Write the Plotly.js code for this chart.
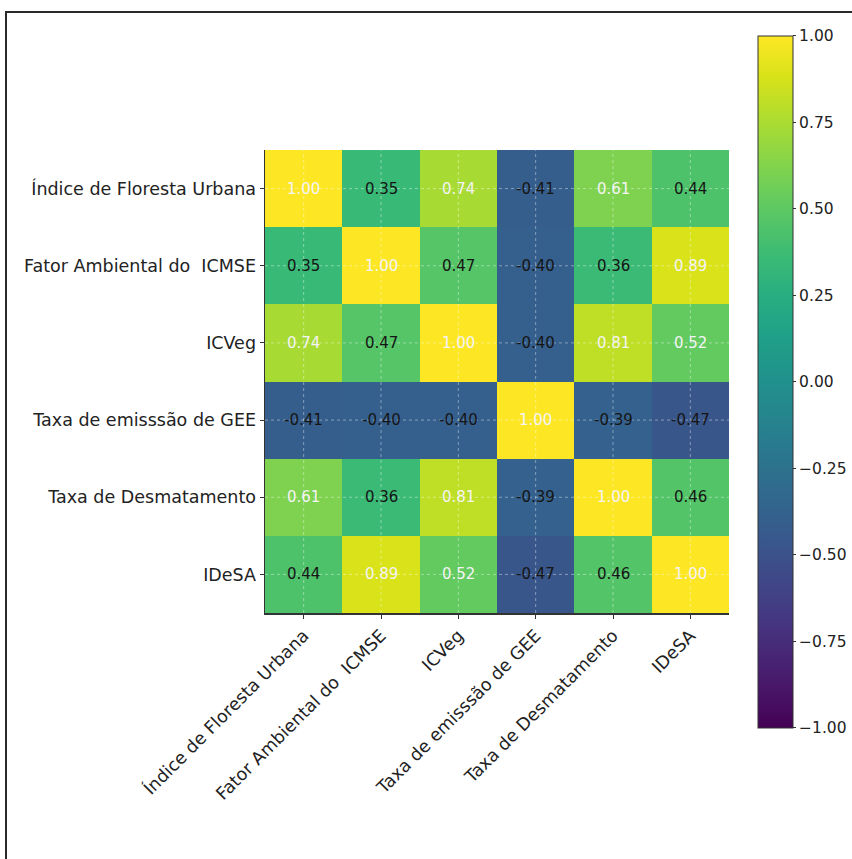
<!DOCTYPE html>
<html>
<head>
<meta charset="utf-8">
<script src="https://cdn.plot.ly/plotly-3.0.1.min.js"></script>
<style>
  html, body { margin: 0; padding: 0; background: #fff; }
  #wrap { position: relative; width: 852px; height: 859px; }
  #chart { position: absolute; left: 0; top: 0; width: 852px; height: 859px; }
  #frame { position: absolute; left: 5px; top: 11px; width: 860px; height: 860px;
           border-left: 2px solid #2a2a2a; border-top: 2px solid #2a2a2a; pointer-events: none; }
</style>
</head>
<body>
<div id="wrap">
  <div id="chart"></div>
  <div id="frame"></div>
</div>
<script>
// Variable names (same order on both axes)
const variables = [
  "Índice de Floresta Urbana",
  "Fator Ambiental do\u00A0 ICMSE",
  "ICVeg",
  "Taxa de emisssão de GEE",
  "Taxa de Desmatamento",
  "IDeSA"
];

// Correlation matrix rows (row i = variables[i])
const rowIndiceFloresta = [1.00, 0.35, 0.74, -0.41, 0.61, 0.44];
const rowFatorICMSE     = [0.35, 1.00, 0.47, -0.40, 0.36, 0.89];
const rowICVeg          = [0.74, 0.47, 1.00, -0.40, 0.81, 0.52];
const rowTaxaGEE        = [-0.41, -0.40, -0.40, 1.00, -0.39, -0.47];
const rowDesmatamento   = [0.61, 0.36, 0.81, -0.39, 1.00, 0.46];
const rowIDeSA          = [0.44, 0.89, 0.52, -0.47, 0.46, 1.00];

const colorbarTicks = [-1, -0.75, -0.5, -0.25, 0, 0.25, 0.5, 0.75, 1];

const z = [rowIndiceFloresta, rowFatorICMSE, rowICVeg, rowTaxaGEE, rowDesmatamento, rowIDeSA];

const FONT = "DejaVu Sans, Verdana, sans-serif";
const TXT = "#222";

const trace = {
  type: "heatmap",
  x: variables,
  y: variables,
  z: z,
  zmin: -1,
  zmax: 1,
  colorscale: "Viridis",
  xgap: 0,
  ygap: 0,
  hoverinfo: "skip",
  colorbar: {
    x: 1.0625,
    xanchor: "left",
    xpad: 0,
    ypad: 0,
    y: 0.4995,
    yanchor: "middle",
    thickness: 35,
    thicknessmode: "pixels",
    len: 692,
    lenmode: "pixels",
    outlinewidth: 1,
    outlinecolor: "#333",
    tickmode: "array",
    tickvals: colorbarTicks,
    tickformat: ".2f",
    ticks: "outside",
    ticklen: 3,
    tickwidth: 1,
    tickcolor: "#333",
    tickfont: { family: FONT, size: 15.5, color: TXT }
  }
};

// Cell value annotations
const annotations = [];
z.forEach((row, i) => {
  row.forEach((v, j) => {
    annotations.push({
      x: variables[j],
      y: variables[i],
      xref: "x",
      yref: "y",
      text: v.toFixed(2),
      showarrow: false,
      font: { family: FONT, size: 15, color: v > 0.5 ? "#f4f4f4" : "#151515" }
    });
  });
});

// Dashed grid lines over the cells, at category centres
const GRID = { color: "rgba(255,255,255,0.4)", width: 1, dash: "3px,3px" };
const shapes = [];
variables.forEach((name, i) => {
  shapes.push({
    type: "line", xref: "x", yref: "paper", x0: i, x1: i, y0: 0, y1: 1,
    line: GRID, layer: "above"
  });
  shapes.push({
    type: "line", xref: "paper", yref: "y", x0: 0, x1: 1, y0: i, y1: i,
    line: GRID, layer: "above"
  });
});

const layout = {
  width: 852,
  height: 859,
  margin: { l: 265, r: 123, t: 150, b: 246, pad: 0, autoexpand: false },
  paper_bgcolor: "#fff",
  plot_bgcolor: "#fff",
  font: { family: FONT, color: TXT },
  xaxis: {
    type: "category",
    tickangle: -45,
    ticks: "outside",
    ticklen: 4,
    tickwidth: 1,
    tickcolor: "#333",
    showline: true,
    linecolor: "#333",
    linewidth: 1.5,
    showgrid: false,
    zeroline: false,
    automargin: false,
    tickfont: { family: FONT, size: 17.5, color: TXT },
    fixedrange: true
  },
  yaxis: {
    type: "category",
    autorange: "reversed",
    ticks: "outside",
    ticklen: 4,
    tickwidth: 1,
    tickcolor: "#333",
    showline: true,
    linecolor: "#333",
    linewidth: 1.5,
    showgrid: false,
    zeroline: false,
    automargin: false,
    tickfont: { family: FONT, size: 17.5, color: TXT },
    fixedrange: true
  },
  annotations: annotations,
  shapes: shapes,
  showlegend: false
};

Plotly.newPlot("chart", [trace], layout, { displayModeBar: false, staticPlot: true });
</script>
</body>
</html>
